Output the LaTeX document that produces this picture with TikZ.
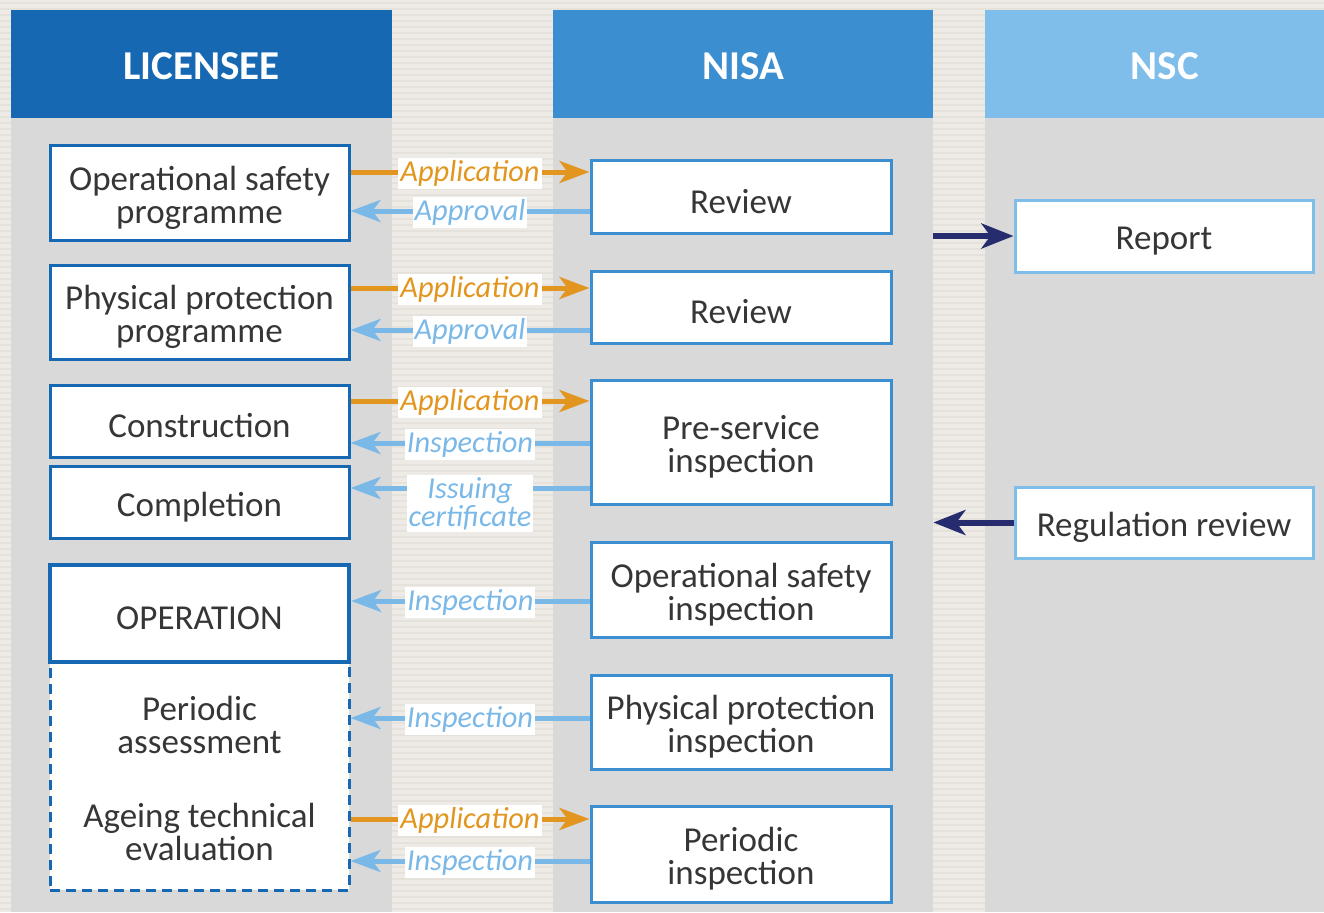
\documentclass[tikz,border=0pt]{standalone}
\usepackage{fontspec}
\setmainfont{Carlito}
\usetikzlibrary{arrows.meta}
\definecolor{bgc}{HTML}{EEEBE6}
\definecolor{stripec}{HTML}{E5E1DB}
\definecolor{colc}{HTML}{D9D9D9}
\definecolor{hdA}{HTML}{1768B3}
\definecolor{hdB}{HTML}{3B8ECF}
\definecolor{hdC}{HTML}{7FBDEA}
\definecolor{orng}{HTML}{E3961F}
\definecolor{lblue}{HTML}{7AB8E8}
\definecolor{navy}{HTML}{272C6E}
\definecolor{txt}{HTML}{363636}
\tikzset{
  colbody/.style={fill=colc, draw=none, inner sep=0pt, minimum height=397pt},
  header/.style={inner sep=0pt, minimum height=54pt, fill=#1},
  htext/.style={label={[text=white, inner sep=0pt, yshift=-1pt, font=\bfseries\fontsize{20.5}{24}\selectfont]center:#1}},
  plain/.style={inner sep=0pt, align=center, text=txt, font=\fontsize{17.5}{16.5}\selectfont},
  box/.style={fill=white, line width=1.5pt, inner sep=0pt},
  bt/.style={label={[plain, yshift=-2.5pt]center:#1}},
  lbox/.style={box, draw=hdA, minimum width=149.5pt},
  nbox/.style={box, draw=hdB, minimum width=150pt},
  sbox/.style={box, draw=hdC, minimum width=149pt},
  tipA/.style={-{Stealth[length=15pt,width=11pt,inset=4pt]}},
  app/.style={draw=orng, line width=2.5pt, tipA},
  insp/.style={draw=lblue, line width=2.5pt, tipA},
  rep/.style={draw=navy, line width=3pt, -{Stealth[length=16pt,width=12.5pt,inset=4.5pt]}},
  lab/.style={fill=white, inner xsep=1pt, inner ysep=0.5pt, text height=11pt, text depth=3.5pt, yshift=-0.8pt, font=\itshape\fontsize{15.2}{14.2}\selectfont},
  labA/.style={lab, text=orng},
  labB/.style={lab, text=lblue},
}
\begin{document}
\begin{tikzpicture}[x=0.5pt,y=-0.5pt]
\useasboundingbox (0,0) rectangle (1324,912);
\fill[bgc] (0,0) rectangle (1324,912);
\foreach \yy in {3,9,...,909} \draw[stripec, line width=1pt] (0,\yy) -- (1324,\yy);

% columns
\node[colbody, minimum width=190.5pt] (c1) at (201.5,515) {};
\node[colbody, minimum width=190pt] (c2) at (743,515) {};
\node[colbody, minimum width=169.5pt] (c3) at (1154.5,515) {};
\node[header=hdA, minimum width=190.5pt, htext=LICENSEE] (h1) at (201.5,64) {};
\node[header=hdB, minimum width=190pt, htext=NISA] (h2) at (743,64) {};
\node[header=hdC, minimum width=169.5pt] (h3) at (1154.5,64) {};
\node[text=white, inner sep=0pt, font=\bfseries\fontsize{20.5}{24}\selectfont] (h3t) at (1165,66) {NSC};

% licensee boxes
\node[lbox, minimum height=47.5pt, bt={Operational safety\\programme}] (osp) at (199.5,192.5) {};
\node[lbox, minimum height=47pt, bt={Physical protection\\programme}] (ppp) at (199.5,312) {};
\node[lbox, minimum height=36pt, bt={Construction}] (cons) at (199.5,421) {};
\node[lbox, minimum height=36pt, bt={Completion}] (comp) at (199.5,502) {};
\node[box, draw=hdA, line width=1.5pt, dash pattern=on 5pt off 3pt, minimum width=149.5pt, minimum height=114pt] (dash) at (199.5,776) {};
\node[lbox, line width=2.2pt, minimum height=48.5pt, bt={OPERATION}] (oper) at (199.5,613.5) {};
\node[plain] (pa) at (199.5,725) {Periodic\\assessment};
\node[plain] (ate) at (199.5,832) {Ageing technical\\evaluation};

% NISA boxes
\node[nbox, minimum height=36.5pt, bt={Review}] (rev1) at (741,196.5) {};
\node[nbox, minimum height=36pt, bt={Review}] (rev2) at (741,307) {};
\node[nbox, minimum height=62pt, bt={Pre-service\\inspection}] (pre) at (741,442) {};
\node[nbox, minimum height=47.5pt, bt={Operational safety\\inspection}] (osi) at (741,589.5) {};
\node[nbox, minimum height=47pt, bt={Physical protection\\inspection}] (ppi) at (741,722) {};
\node[nbox, minimum height=48pt, bt={Periodic\\inspection}] (pi) at (741,854) {};

% NSC boxes
\node[sbox, minimum height=36pt, bt={Report}] (report) at (1164,236) {};
\node[sbox, minimum height=35.5pt, bt={Regulation review}] (regrev) at (1164,522.5) {};

% arrows
\draw[app] (osp.east |- 0,172) -- (rev1.west |- 0,172) node[midway, labA] {Application};
\draw[insp] (rev1.west |- 0,211) -- (osp.east |- 0,211) node[midway, labB] {Approval};
\draw[app] (ppp.east |- 0,288) -- (rev2.west |- 0,288) node[midway, labA] {Application};
\draw[insp] (rev2.west |- 0,330) -- (ppp.east |- 0,330) node[midway, labB] {Approval};
\draw[app] (cons.east |- 0,401) -- (pre.west |- 0,401) node[midway, labA] {Application};
\draw[insp] (pre.west |- 0,443) -- (cons.east |- 0,443) node[midway, labB] {Inspection};
\draw[insp] (pre.west |- 0,488) -- (comp.east |- 0,488) node[midway, labB, align=center, yshift=-7pt, text height=, text depth=, inner ysep=1pt] {Issuing\\certificate};
\draw[insp] (osi.west |- 0,601) -- (oper.east |- 0,601) node[midway, labB] {Inspection};
\draw[insp] (ppi.west |- 0,718) -- (dash.east |- 0,718) node[midway, labB] {Inspection};
\draw[app] (dash.east |- 0,819) -- (pi.west |- 0,819) node[midway, labA] {Application};
\draw[insp] (pi.west |- 0,861) -- (dash.east |- 0,861) node[midway, labB] {Inspection};

\draw[rep] (c2.east |- report.west) -- (report.west);
\draw[rep] (regrev.west) -- (c2.east |- regrev.west);
\end{tikzpicture}
\end{document}
